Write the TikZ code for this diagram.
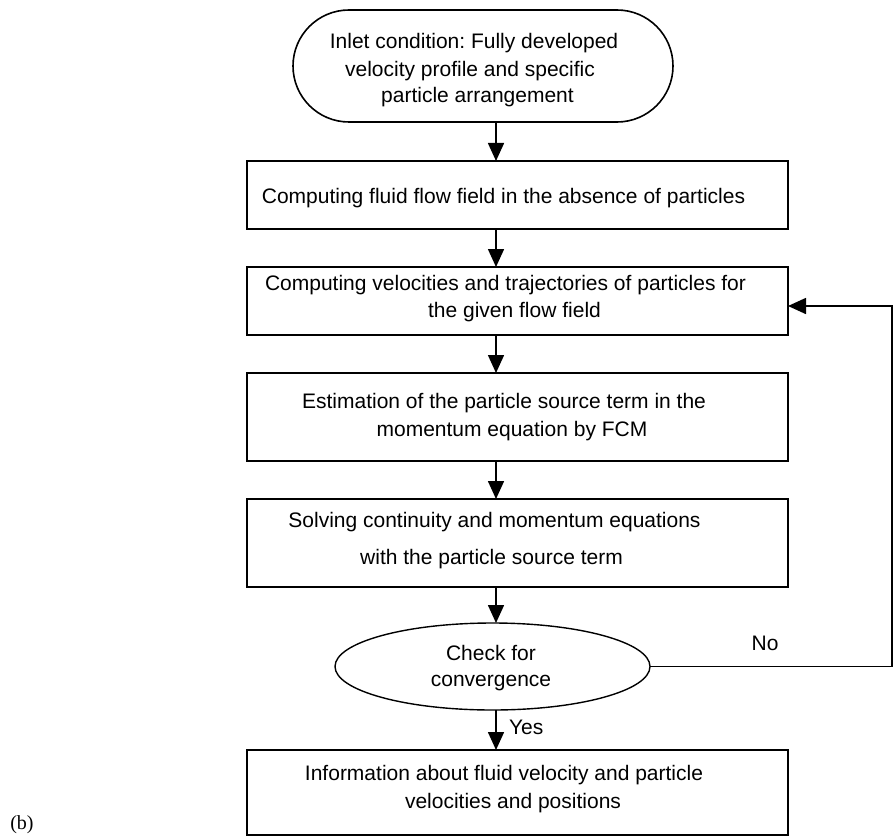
\documentclass[tikz,border=0pt]{standalone}
\usepackage{fontspec}
\setmainfont{Liberation Sans}
\newfontfamily\capfont{Liberation Serif}
\usetikzlibrary{arrows.meta,shapes.misc,shapes.geometric}
\frenchspacing
\begin{document}
\begin{tikzpicture}[x=1pt,y=-1pt,
  every node/.style={inner sep=0pt,outer sep=0pt},
  lbl/.style={anchor=base,font=\fontsize{21}{27}\selectfont},
  stepbox/.style={draw,line width=1.6pt,rectangle,minimum width=541pt},
  arr/.style={line width=1.6pt,-{Triangle[length=18pt,width=16pt]}},
  lin/.style={line width=1.6pt}]
\useasboundingbox (0,0) rectangle (893,837);
% shapes
\node[draw,line width=1.6pt,rounded rectangle,minimum width=380pt,minimum height=112pt] (term) at (483,66) {};
\node[stepbox,minimum height=68pt] (box1) at (517.5,195) {};
\node[stepbox,minimum height=68pt] (box2) at (517.5,301) {};
\node[stepbox,minimum height=88pt] (box3) at (517.5,417) {};
\node[stepbox,minimum height=88pt] (box4) at (517.5,543) {};
\node[draw,line width=1.4pt,ellipse,minimum width=315pt,minimum height=87pt] (conv) at (492.5,666.5) {};
\node[stepbox,minimum height=85pt] (box5) at (517.5,792.5) {};
% texts
\node[lbl] (t1) at (474,49) {Inlet condition: Fully developed};
\node[lbl] (t2) at (470,77) {velocity profile and specific};
\node[lbl] (t3) at (477.5,103) {particle arrangement};
\node[lbl] (b1) at (503.5,203) {Computing fluid flow field in the absence of particles};
\node[lbl] (b2a) at (505.5,290) {Computing velocities and trajectories of particles for};
\node[lbl] (b2b) at (514.5,317) {the given flow field};
\node[lbl] (b3a) at (504,408) {Estimation of the particle source term in the};
\node[lbl] (b3b) at (512,436) {momentum equation by FCM};
\node[lbl] (b4a) at (494.5,527) {Solving continuity and momentum equations};
\node[lbl] (b4b) at (491.5,564) {with the particle source term};
\node[lbl] (c1) at (491,660) {Check for};
\node[lbl] (c2) at (491,686) {convergence};
\node[lbl] (b5a) at (504,780) {Information about fluid velocity and particle};
\node[lbl] (b5b) at (513,808) {velocities and positions};
\node[lbl] (no) at (765,650) {No};
\node[lbl,anchor=base west] (yes) at (509,734) {Yes};
\node[anchor=base,font=\capfont\fontsize{20}{24}\selectfont] (cap) at (22,829) {(b)};
% connectors
\coordinate (ax) at (496,0);
\coordinate (rt) at (892,0);
\coordinate (fb) at (892,306);
\draw[arr] (term.south -| ax) -- (box1.north -| ax);
\draw[arr] (box1.south -| ax) -- (box2.north -| ax);
\draw[arr] (box2.south -| ax) -- (box3.north -| ax);
\draw[arr] (box3.south -| ax) -- (box4.north -| ax);
\draw[arr] (box4.south -| ax) -- (conv.north -| ax);
\draw[arr] (conv.south -| ax) -- (box5.north -| ax);
\draw[arr] (conv.east) -- (conv.east -| rt) -- (fb) -- (fb -| box2.east);
\end{tikzpicture}
\end{document}
